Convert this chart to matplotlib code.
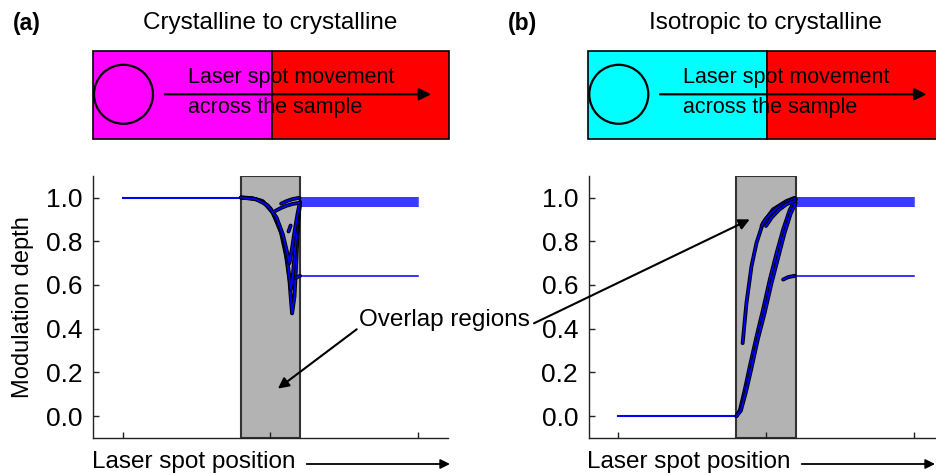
import numpy as np
import matplotlib
matplotlib.use('Agg')
import matplotlib.pyplot as plt
import matplotlib.patheffects as pe
from matplotlib.patches import Rectangle, Circle

plt.rcParams['font.family'] = ['Liberation Sans', 'DejaVu Sans']

# ---- data ----
overlap = (0.4, 0.6)
x_ticks = [0.0, 0.5, 1.0]
y_ticks = [0.0, 0.2, 0.4, 0.6, 0.8, 1.0]

# (a) crystalline -> crystalline
a_left_x = [0.0, 0.4]
a_left_y = [1.0, 1.0]
a_right_x = [0.6, 1.0]
a_right_levels = [1.0, 0.99, 0.98, 0.97, 0.96, 0.64]

a_dip1_x = [0.40, 0.42, 0.44, 0.474, 0.508, 0.536, 0.553, 0.564, 0.570, 0.573, 0.581, 0.587, 0.592, 0.598]
a_dip1_y = [1.00, 0.999, 0.996, 0.983, 0.93, 0.838, 0.73, 0.623, 0.516, 0.47, 0.547, 0.70, 0.853, 0.96]
a_dip2_x = [0.40, 0.44, 0.47, 0.50, 0.53, 0.548, 0.558, 0.565, 0.569, 0.576, 0.584, 0.592, 0.600]
a_dip2_y = [1.00, 0.996, 0.985, 0.95, 0.87, 0.78, 0.70, 0.62, 0.58, 0.65, 0.78, 0.90, 0.97]
a_dip3_x = [0.40, 0.45, 0.49, 0.52, 0.542, 0.556, 0.564, 0.572, 0.582, 0.592, 0.600]
a_dip3_y = [1.00, 0.993, 0.965, 0.91, 0.83, 0.75, 0.70, 0.76, 0.85, 0.93, 0.98]
a_arc1_x = [0.514, 0.535, 0.555, 0.575, 0.598]
a_arc1_y = [0.937, 0.952, 0.963, 0.971, 0.976]
a_arc2_x = [0.536, 0.555, 0.575, 0.598]
a_arc2_y = [0.972, 0.984, 0.993, 0.999]
a_tick_x = [0.561, 0.568]
a_tick_y = [0.845, 0.872]
a_seg_x = [0.585, 0.600]
a_seg_y = [0.632, 0.642]

# (b) isotropic -> crystalline
b_left_x = [0.0, 0.4]
b_left_y = [0.0, 0.0]
b_right_x = [0.6, 1.0]
b_right_levels = [1.0, 0.99, 0.98, 0.97, 0.96, 0.64]

b_rise1_x = [0.40, 0.412, 0.428, 0.445, 0.468, 0.49, 0.513, 0.536, 0.558, 0.581, 0.601]
b_rise1_y = [0.0, 0.028, 0.119, 0.226, 0.364, 0.487, 0.625, 0.747, 0.854, 0.946, 0.992]
b_rise2_x = [0.40, 0.415, 0.432, 0.45, 0.472, 0.495, 0.518, 0.541, 0.562, 0.583, 0.600]
b_rise2_y = [0.0, 0.025, 0.11, 0.215, 0.35, 0.47, 0.605, 0.725, 0.835, 0.925, 0.975]
b_rise3_x = [0.421, 0.434, 0.451, 0.468, 0.49, 0.524, 0.569, 0.597]
b_rise3_y = [0.334, 0.518, 0.686, 0.793, 0.884, 0.946, 0.984, 0.999]
b_arc1_x = [0.485, 0.498, 0.513, 0.535, 0.558, 0.597]
b_arc1_y = [0.87, 0.90, 0.923, 0.95, 0.969, 0.995]
b_arc2_x = [0.50, 0.52, 0.545, 0.57, 0.598]
b_arc2_y = [0.87, 0.91, 0.945, 0.97, 0.985]
b_seg_x = [0.558, 0.575, 0.597]
b_seg_y = [0.625, 0.636, 0.642]

W, H = 936, 474
BLUE = '#0000ff'
outline = [pe.Stroke(linewidth=2.8, foreground='black'), pe.Normal()]

def px_box(x0, y0, x1, y1):
    # pixel box (top-left origin) -> figure fraction
    return [x0 / W, 1 - y1 / H, (x1 - x0) / W, (y1 - y0) / H]

def style(ax):
    ax.set_xlim(-0.1, 1.1)
    ax.set_ylim(-0.1, 1.1)
    ax.set_xticks(x_ticks)
    ax.set_xticklabels([])
    ax.set_yticks(y_ticks)
    ax.set_yticklabels(['%.1f' % v for v in y_ticks])
    ax.tick_params(direction='in', length=4, width=1, labelsize=19, pad=7.5, colors='#222222')
    ax.tick_params(axis='y', labelcolor='black')
    for s in ['top', 'right']:
        ax.spines[s].set_visible(False)
    for s in ['left', 'bottom']:
        ax.spines[s].set_linewidth(1.0)
        ax.spines[s].set_color('#222222')
    ax.axvspan(*overlap, facecolor='#b3b3b3', edgecolor='#333333', lw=1.5, zorder=1)

fig = plt.figure(figsize=(W / 100, H / 100), dpi=100)
ax_a = fig.add_axes(px_box(93, 175.7, 448, 438))
ax_b = fig.add_axes(px_box(588.5, 175.7, 943.5, 438))
style(ax_a)
style(ax_b)

# panel a lines
ax_a.plot(a_left_x, a_left_y, color=BLUE, lw=1.5, zorder=3)
for lv in a_right_levels:
    ax_a.plot(a_right_x, [lv, lv], color=BLUE, lw=1.1, zorder=3)
for xs, ys in [(a_dip1_x, a_dip1_y), (a_dip2_x, a_dip2_y), (a_dip3_x, a_dip3_y),
               (a_arc1_x, a_arc1_y), (a_arc2_x, a_arc2_y), (a_tick_x, a_tick_y),
               (a_seg_x, a_seg_y)]:
    ax_a.plot(xs, ys, color=BLUE, lw=1.3, zorder=4, path_effects=outline,
              solid_capstyle='round')

# panel b lines
ax_b.plot(b_left_x, b_left_y, color=BLUE, lw=1.5, zorder=3)
for lv in b_right_levels:
    ax_b.plot(b_right_x, [lv, lv], color=BLUE, lw=1.1, zorder=3)
for xs, ys in [(b_rise1_x, b_rise1_y), (b_rise2_x, b_rise2_y), (b_rise3_x, b_rise3_y),
               (b_arc1_x, b_arc1_y), (b_arc2_x, b_arc2_y), (b_seg_x, b_seg_y)]:
    ax_b.plot(xs, ys, color=BLUE, lw=1.3, zorder=4, path_effects=outline,
              solid_capstyle='round')

ax_a.set_ylabel('Modulation depth', fontsize=17, va='center')
ax_a.yaxis.set_label_coords(-0.197, 0.5)

# overlay in pixel coordinates for schematics and annotations
ov = fig.add_axes([0, 0, 1, 1])
ov.set_xlim(0, W)
ov.set_ylim(H, 0)
ov.axis('off')

def schematic(x0, left_color, title, label):
    y0, y1 = 50.7, 139.3
    mid = x0 + 178.5
    ov.add_patch(Rectangle((x0, y0), mid - x0, y1 - y0, facecolor=left_color,
                           edgecolor='black', lw=1.2))
    ov.add_patch(Rectangle((mid, y0), 177.5, y1 - y0, facecolor='#ff0000',
                           edgecolor='black', lw=1.2))
    ov.add_patch(Circle((x0 + 30.5, 94.3), 29.5, facecolor='none', edgecolor='black', lw=1.6))
    ov.annotate('', xy=(x0 + 341, 94.3), xytext=(x0 + 69, 94.3),
                arrowprops=dict(arrowstyle='-|>', color='black', lw=1.6, mutation_scale=18))
    ov.text(x0 + 95, 83, 'Laser spot movement', fontsize=15.5, va='baseline')
    ov.text(x0 + 95, 113, 'across the sample', fontsize=15.5, va='baseline')
    ov.text(mid - 1, 23, title, fontsize=17.5, ha='center', va='center')
    ov.text(x0 - 80.5, 23, label, fontsize=16.5, fontweight='bold', ha='left', va='center')

schematic(93, '#ff00ff', 'Crystalline to crystalline', '(a)')
schematic(588.3, '#00ffff', 'Isotropic to crystalline', '(b)')

# x-axis labels with arrows
for x0, x_end in [(91.7, 450), (586.7, 935)]:
    ov.text(x0, 468, 'Laser spot position', fontsize=17.5, va='baseline')
    ov.annotate('', xy=(x_end, 464), xytext=(x0 + 215, 464), annotation_clip=False,
                arrowprops=dict(arrowstyle='-|>', color='black', lw=1.3, mutation_scale=14,
                                shrinkA=0, shrinkB=0))

# Overlap regions annotation
ov.text(444, 320, 'Overlap regions', fontsize=17.5, ha='center', va='center')
ov.annotate('', xy=(0.525, 0.126), xycoords=ax_a.transData, xytext=(356.7, 329.3),
            textcoords='data',
            arrowprops=dict(arrowstyle='-|>', color='black', lw=1.5, mutation_scale=16,
                            shrinkA=0, shrinkB=0))
ov.annotate('', xy=(0.445, 0.90), xycoords=ax_b.transData, xytext=(534, 323.3),
            textcoords='data',
            arrowprops=dict(arrowstyle='-|>', color='black', lw=1.5, mutation_scale=16,
                            shrinkA=0, shrinkB=0))

fig.savefig('out.png', dpi=100)
